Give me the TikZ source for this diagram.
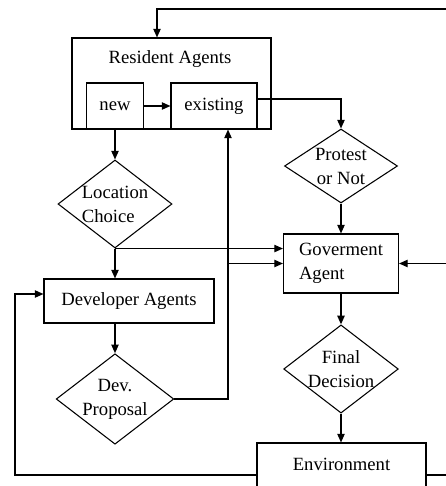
\documentclass[tikz,border=0pt]{standalone}
\usepackage{fontspec}
\setmainfont{Liberation Serif}
\usetikzlibrary{shapes,arrows.meta,calc}

\tikzset{
  box/.style={draw, rectangle, inner sep=0pt, line width=0.8pt},
  decide/.style={draw, diamond, inner sep=0pt, shape aspect=1.3, line width=0.8pt, align=center},
  flow/.style={line width=1pt, -{Triangle[length=6.5pt,width=5.5pt]}},
}

\begin{document}
\begin{tikzpicture}[x=0.75pt,y=-0.75pt,font=\fontsize{14}{18}\selectfont]
      \useasboundingbox (0,0) rectangle (446,486);
      \clip (0,0) rectangle (446,486);
      %
      \node[box, minimum width=149.25pt, minimum height=68.25pt] (res) at (171.5,83.5) {};
      \node (restitle) at (170,59) {Resident Agents};
      \node[box, minimum width=42.75pt, minimum height=34.5pt] (new) at (115,106) {new};
      \node[box, minimum width=64.5pt, minimum height=34.5pt] (exist) at (214,106) {existing};
      \node[decide, shape aspect=1.5, minimum width=84.75pt, minimum height=55.5pt] (protest) at (341,166) {Protest\\or Not};
      \node[decide, align=left, minimum width=85.5pt, minimum height=66pt] (loc) at (115,204) {Location\\Choice};
      \node[box, align=left, minimum width=86.25pt, minimum height=44.25pt] (gov) at (341,263.5) {Goverment\\Agent};
      \node[box, minimum width=127.5pt, minimum height=33pt] (dev) at (129,301) {Developer Agents};
      \node[decide, minimum width=84.75pt, minimum height=66pt] (prop) at (115,399) {Dev.\\Proposal};
      \node[decide, minimum width=84.75pt, minimum height=66pt] (final) at (341,369) {Final\\Decision};
      \node[box, minimum width=126.75pt, minimum height=48pt, text height=10pt, text depth=17.5pt] (env) at (341.5,475) {Environment};
      %
      \coordinate (east) at (460,0);
      \coordinate (west) at (15,0);
      \coordinate (riser) at (228,0);
      \coordinate (top) at (157,9);
      \coordinate (devin) at ($(dev.west)+(0,-7)$);
      %
      \draw[flow] (new) -- (exist);
      \draw[flow] ($(exist.east)+(0,-7)$) -| (protest.north);
      \draw[flow] (new.south) -- (loc.north);
      \draw[flow] (loc.south) -- (loc.south |- dev.north);
      \draw[flow] (loc.south) -- (loc.south -| gov.west);
      \draw[flow] (prop.north |- dev.south) -- (prop.north);
      \draw[flow] (prop.east) -| (riser |- exist.south);
      \draw[flow] (riser |- gov.west) -- (gov.west);
      \draw[flow] (protest) -- (gov);
      \draw[flow] (gov) -- (final);
      \draw[flow] (final.south) -- (final.south |- env.north);
      \draw[flow] (env.west) -| (west |- devin) -- (devin);
      \draw[flow] (env.east) -| (east |- top) -- (top) -- (top |- res.north);
      \draw[flow] (east |- gov.east) -- (gov.east);
\end{tikzpicture}
\end{document}
